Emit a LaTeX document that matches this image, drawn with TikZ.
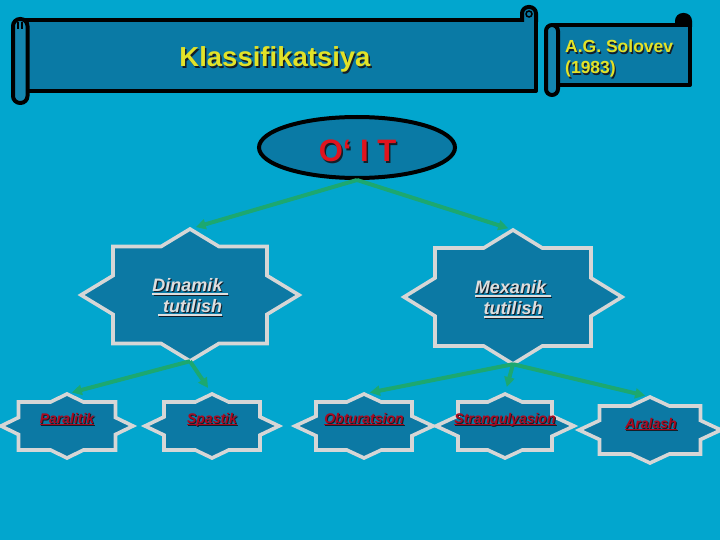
\documentclass[tikz,border=0pt]{standalone}
\usepackage{fontspec}
\setmainfont{Liberation Sans}
\newcommand\myul[1]{\setbox0\hbox{#1}\rlap{\vrule width\wd0 height -0.1em depth 0.165em}\box0}
\usetikzlibrary{shapes.geometric,arrows.meta,calc}
\definecolor{bgc}{RGB}{2,166,206}
\definecolor{bodyc}{RGB}{10,122,165}
\definecolor{rollc}{RGB}{20,134,176}
\definecolor{starfillc}{RGB}{12,121,164}
\definecolor{starlinec}{RGB}{214,214,214}
\definecolor{arrowc}{RGB}{28,168,112}
\definecolor{yelc}{RGB}{226,226,40}
\definecolor{redc}{RGB}{224,20,30}
\definecolor{dredc}{RGB}{172,8,32}
\definecolor{greyc}{RGB}{222,222,222}
\definecolor{shadc}{RGB}{20,30,40}
\newcommand\octstar[7]{%
  \pgfmathsetmacro\uT{#4*(1-#7/#5)}%
  \pgfmathsetmacro\vS{#5*(1-#6/#4)}%
  \begin{scope}[shift={(#2,#3)}]
    \draw[starline] (0,-#5) -- (\uT,-#7) -- (#6,-#7) -- (#6,-\vS) -- (#4,0)
      -- (#6,\vS) -- (#6,#7) -- (\uT,#7) -- (0,#5) -- (-\uT,#7) -- (-#6,#7)
      -- (-#6,\vS) -- (-#4,0) -- (-#6,-\vS) -- (-#6,-#7) -- (-\uT,-#7) -- cycle;
  \end{scope}
  \node[anchorbox, minimum width={2*#4 pt}, minimum height={2*#5 pt}] (#1) at (#2,#3) {};
}
\begin{document}
\begin{tikzpicture}[x=1pt,y=-1pt,
  scroll/.style={draw=black, line width=4pt, fill=bodyc, line join=round},
  starline/.style={draw=starlinec, line width=3.6pt, fill=starfillc, line join=miter},
  anchorbox/.style={rectangle, inner sep=0pt, draw=none},
  arr/.style={draw=arrowc, line width=4pt, -{Triangle[length=10pt,width=10pt]}},
  ttl/.style={font=\fontsize{27.5}{30}\selectfont\bfseries, inner sep=0pt, anchor=base},
  auth/.style={font=\fontsize{17.5}{21}\selectfont\bfseries, inner sep=0pt, anchor=base west, align=left},
  oitt/.style={font=\fontsize{31}{34}\selectfont\bfseries, inner sep=0pt, anchor=base},
  bigt/.style={font=\fontsize{18}{21}\selectfont\bfseries\itshape, inner sep=0pt, align=center},
  smallt/.style={font=\fontsize{14}{16}\selectfont\bfseries\itshape, inner sep=0pt, anchor=base}
]
\useasboundingbox (0,0) rectangle (720,540);
\fill[bgc] (0,0) rectangle (720,540);

% main scroll banner
\draw[scroll] (20,20) rectangle (536,91);
\draw[scroll, rounded corners=6.5pt] (522,22) -- (522,7) -- (536,7) -- (536,22);
\draw[black, line width=1.5pt] (529,14) circle (3);
\draw[scroll, fill=rollc, rounded corners=7pt] (13,19) rectangle (27.5,103);
\draw[black, line width=1.2pt] (18,22) -- (18,29) (22,22) -- (22,29);
\node[ttl, text=shadc] (ttlsh) at (276.5,68.5) {Klassifikatsiya};
\node[ttl, text=yelc] (ttl) at (275,67) {Klassifikatsiya};

% small scroll banner
\draw[scroll] (553,25) rectangle (690,85);
\draw[scroll, fill=black, rounded corners=6pt] (677,27) -- (677,15) -- (690,15) -- (690,27);
\draw[scroll, fill=rollc, rounded corners=6pt] (546,25) rectangle (558,95);
\node[auth, text=shadc] (authsh) at (566.2,75.2) {A.G. Solovev\\(1983)};
\node[auth, text=yelc] (auth) at (565,74) {A.G. Solovev\\(1983)};

% O'IT ellipse
\node[ellipse, draw=black, line width=4pt, fill=bodyc, minimum width=196pt, minimum height=61pt, inner sep=0pt] (oit) at (357,147.5) {};
\node[oitt, text=shadc] (oitsh) at (359,163.5) {O‘ I T};
\node[oitt, text=redc] (oitt) at (357.5,162) {O‘ I T};

% big stars
\octstar{din}{190}{295}{109}{66}{77}{48.5}
\octstar{mex}{513}{297}{109}{67}{78}{49}
\node[bigt, text=shadc] (dinsh) at (191.2,298.2) {\myul{Dinamik\ }\\\myul{\ tutilish}};
\node[bigt, text=greyc] (dint) at (190,297) {\myul{Dinamik\ }\\\myul{\ tutilish}};
\node[bigt, text=shadc] (mexsh) at (514.2,300.2) {\myul{Mexanik\ }\\\myul{tutilish}};
\node[bigt, text=greyc] (mext) at (513,299) {\myul{Mexanik\ }\\\myul{tutilish}};

% small stars
\octstar{par}{67}{426}{66}{32}{48.5}{24}
\octstar{spa}{212}{426}{67}{32}{48}{24}
\octstar{obt}{364}{426}{69}{32}{48}{24}
\octstar{str}{505}{426}{69}{32}{47}{24}
\octstar{ara}{650}{430}{71}{33}{50.5}{24}
\node[smallt, text=shadc] (parsh) at (68,424) {\myul{Paralitik}};
\node[smallt, text=dredc] (part) at (67,423) {\myul{Paralitik}};
\node[smallt, text=shadc] (spash) at (213,424) {\myul{Spastik}};
\node[smallt, text=dredc] (spat) at (212,423) {\myul{Spastik}};
\node[smallt, text=shadc] (obtsh) at (365,424) {\myul{Obturatsion}};
\node[smallt, text=dredc] (obtt) at (364,423) {\myul{Obturatsion}};
\node[smallt, text=shadc] (strsh) at (506,424) {\myul{Strangulyasion}};
\node[smallt, text=dredc] (strt) at (505,423) {\myul{Strangulyasion}};
\node[smallt, text=shadc] (arash) at (652,429) {\myul{Aralash}};
\node[smallt, text=dredc] (arat) at (651,428) {\myul{Aralash}};

% connectors
\draw[arr, shorten >=6pt] (oit.south) -- (din.north);
\draw[arr, shorten >=5pt] (oit.south) -- (mex.north);
\draw[arr, shorten >=5pt] (din.south) -- (par.north);
\draw[arr, shorten >=7pt] (din.south) -- (spa.north);
\draw[arr, shorten >=6pt] (mex.south) -- (obt.north);
\draw[arr, shorten >=7pt] (mex.south) -- (str.north);
\draw[arr, shorten >=5pt] (mex.south) -- (ara.north);
\end{tikzpicture}
\end{document}
